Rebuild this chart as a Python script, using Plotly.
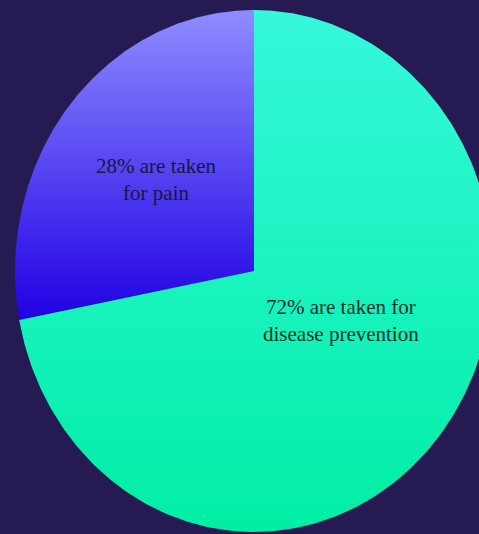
import numpy as np
import plotly.graph_objects as go

# ---- data ----
labels = ["28% are taken<br>for pain", "72% are taken for<br>disease prevention"]
values = [28, 72]
top_colors = ["#8f8cff", "#36f8dc"]
bottom_colors = ["#2000e4", "#00eea4"]
text_colors = ["#1a1640", "#0e2f26"]

# ---- geometry (unit ellipse, stretched by axis ranges) ----
total = sum(values)
start = 90.0  # degrees, 12 o'clock, counter-clockwise
fig = go.Figure()
for i, v in enumerate(values):
    span = v / total * 360.0
    th = np.radians(np.linspace(start, start + span, 300))
    xs = np.concatenate([[0], np.cos(th), [0]])
    ys = np.concatenate([[0], np.sin(th), [0]])
    fig.add_trace(go.Scatter(
        x=xs, y=ys, mode="lines", fill="toself",
        line=dict(width=0, color=bottom_colors[i]),
        fillgradient=dict(type="vertical",
                          colorscale=[[0, bottom_colors[i]], [1, top_colors[i]]]),
        hoverinfo="skip", showlegend=False,
    ))
    start += span

# label positions (layout)
label_pos = [(-0.406, 0.349), (0.364, -0.188)]
for lab, (lx, ly), tc in zip(labels, label_pos, text_colors):
    fig.add_annotation(x=lx, y=ly, text=lab, showarrow=False,
                       font=dict(family="Liberation Serif", size=21, color=tc),
                       align="center")

fig.update_layout(
    width=479, height=534,
    margin=dict(l=0, r=0, t=0, b=0),
    paper_bgcolor="#251b52", plot_bgcolor="#251b52",
    xaxis=dict(range=[-1.0628, 0.9414], visible=False, fixedrange=True),
    yaxis=dict(range=[-1.0077, 1.0383], visible=False, fixedrange=True),
)
fig.write_html("out.html")
